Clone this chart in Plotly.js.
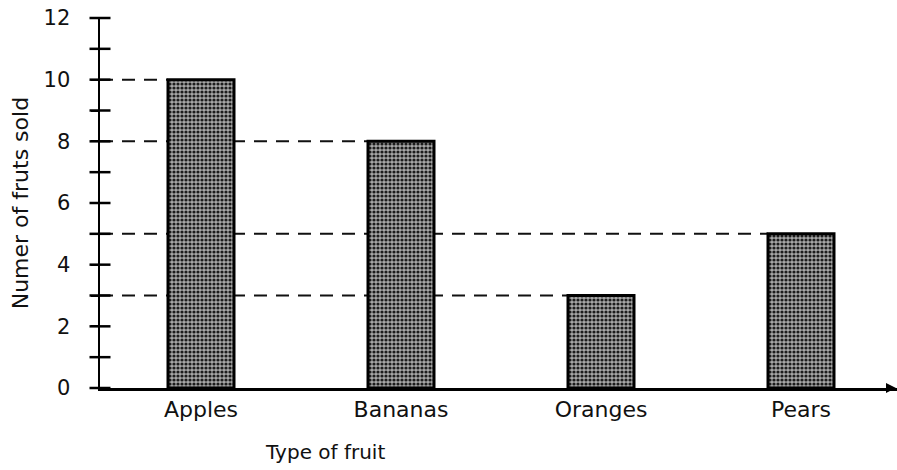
<!DOCTYPE html>
<html>
<head>
<meta charset="utf-8">
<script src="https://cdn.plot.ly/plotly-3.0.1.min.js"></script>
<style>html,body{margin:0;padding:0;background:#fff;}#chart{width:897px;height:470px;}</style>
</head>
<body>
<div id="chart"></div>
<script>
var categories = ["Apples", "Bananas", "Oranges", "Pears"];
var fruitsSold = [10, 8, 3, 5];
var yTickValues = [0,1,2,3,4,5,6,7,8,9,10,11,12];
var yTickLabels = ["0","","2","","4","","6","","8","","10","","12"];
var xTitle = "Type of fruit";
var yTitle = "Numer of fruts sold";

var xIdx = categories.map(function(c, i){ return i; });
var barWidth = 0.33;
var xStart = -0.505;
var font = "DejaVu Sans, Arial, sans-serif";

// dashed guide lines from the y axis to each bar's top-left corner, drawn below the bars
var guideShapes = fruitsSold.map(function(v, i){
  return {type: "line", layer: "below", xref: "x", yref: "y",
    x0: xStart, x1: xIdx[i] - barWidth/2, y0: v, y1: v,
    line: {color: "#111", width: 2, dash: "13px,9px"}};
});

var traces = [{
  type: "bar", x: xIdx, y: fruitsSold, width: barWidth,
  marker: {
    color: "#8f8f8f",
    line: {color: "#000", width: 3},
    pattern: {shape: ".", fgcolor: "#1c1c1c", bgcolor: "#a8a8a8", size: 4, solidity: 0.5}
  },
  hoverinfo: "skip", showlegend: false
}, {
  // tick marks that cross the y axis line
  type: "scatter", mode: "markers", cliponaxis: false,
  x: yTickValues.map(function(){ return xStart; }), y: yTickValues,
  marker: {symbol: "line-ew", size: 15, color: "#000", line: {color: "#000", width: 2.5}},
  hoverinfo: "skip", showlegend: false
}];

var layout = {
  width: 897, height: 470,
  margin: {l: 100, r: 0, t: 18, b: 82},
  paper_bgcolor: "#fff", plot_bgcolor: "#fff",
  font: {family: font, color: "#111", size: 22},
  xaxis: {
    range: [xStart, 3.48], tickvals: xIdx, ticktext: categories,
    showgrid: false, zeroline: false, showline: true, linecolor: "#000", linewidth: 2.5,
    ticks: "", tickfont: {family: font, size: 22, color: "#111"}
  },
  yaxis: {
    range: [0, 12], tickvals: yTickValues, ticktext: yTickLabels,
    showgrid: false, zeroline: false, showline: true, linecolor: "#000", linewidth: 2.5,
    ticks: "outside", ticklen: 7, tickwidth: 2, tickcolor: "#000",
    ticklabelstandoff: 16,
    tickfont: {family: font, size: 21, color: "#111"}
  },
  shapes: guideShapes,
  annotations: [
    {text: yTitle, xref: "paper", yref: "paper", x: -0.1, y: 0.5, xanchor: "center", yanchor: "middle",
     textangle: -90, showarrow: false, font: {family: font, size: 22, color: "#111"}},
    {text: xTitle, xref: "paper", yref: "paper", x: 0.282, y: -0.173, xanchor: "center", yanchor: "middle",
     showarrow: false, font: {family: font, size: 20, color: "#111"}},
    {text: "", xref: "paper", yref: "paper", x: 1, y: 0, ax: -12, ay: 0, showarrow: true,
     arrowhead: 2, arrowsize: 1, arrowwidth: 2, arrowcolor: "#000"}
  ],
  bargap: 0
};

Plotly.newPlot("chart", traces, layout, {displayModeBar: false, staticPlot: true});
</script>
</body>
</html>
